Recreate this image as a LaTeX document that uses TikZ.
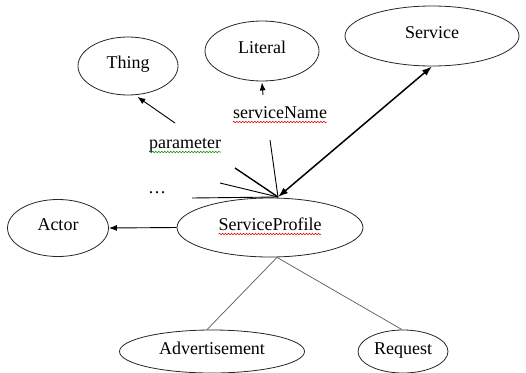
\documentclass[tikz,border=0pt]{standalone}
\usepackage{fontspec}
\setmainfont{Liberation Serif}
\usetikzlibrary{shapes.geometric,arrows.meta,decorations.pathmorphing,calc}
\begin{document}
\begin{tikzpicture}[x=1pt,y=-1pt,
  ell/.style={draw=black!85, ellipse, inner sep=0pt, line width=0.8pt,
    text height=13pt, text depth=8pt, font=\fontsize{18}{20}\selectfont},
  lbl/.style={inner sep=0pt, anchor=base, font=\fontsize{18}{20}\selectfont},
  arr/.style={-{Latex[length=8pt,width=6pt]}, line width=0.9pt},
  dblarr/.style={{Latex[length=10pt,width=7pt]}-{Latex[length=10pt,width=7pt]}, line width=1.5pt},
  thinln/.style={line width=0.9pt},
  thickln/.style={line width=1.4pt},
  grayln/.style={draw=black!65, line width=0.7pt},
  wavyred/.style={draw=red!85!black, line width=0.5pt, decorate,
    decoration={snake, amplitude=0.8pt, segment length=3pt}},
  wavygreen/.style={draw=green!55!black, line width=0.5pt, decorate,
    decoration={snake, amplitude=0.8pt, segment length=3pt}}
]
\useasboundingbox (0,0) rectangle (526,372);

% ellipses
\node[ell, minimum width=100pt, minimum height=58pt] (thing) at (128,66) {Thing};
\node[ell, minimum width=114pt, minimum height=60pt] (lit) at (262,51) {Literal};
\node[ell, minimum width=174pt, minimum height=60pt] (svc) at (432,36) {Service};
\node[ell, minimum width=101pt, minimum height=57pt] (actor) at (58,228) {Actor};
\node[ell, minimum width=186pt, minimum height=59pt] (sp) at (270,227.5) {ServiceProfile};
\node[ell, minimum width=185pt, minimum height=43pt] (adv) at (212,351.5) {Advertisement};
\node[ell, minimum width=90pt, minimum height=43pt] (req) at (403,351.5) {Request};

% labels
\node[lbl] (param) at (185,148) {parameter};
\node[lbl] (sname) at (280,118) {serviceName};
\node[lbl] (dots) at (157,193) {\dots};

% free ends
\coordinate (P) at (278,197);
\coordinate (t1) at (175,123);
\coordinate (l1) at (263,95);
\coordinate (s1) at (270,140);
\coordinate (s2) at (235,168);
\coordinate (s3) at (220,183);
\coordinate (s4) at (192,198);

% connectors
\draw[arr] (sp.west) -- (actor.east);
\draw[arr] (t1) -- ([yshift=-2pt]thing.-72);
\draw[arr] (l1) -- ([yshift=-1pt]lit.south);
\draw[dblarr] (P) -- (svc.south);
\draw[thinln] (s1) -- (P);
\draw[thickln] (s2) -- (P);
\draw[thinln] (s3) -- (P);
\draw[thinln] (s4) -- (P);
\draw[grayln] ([xshift=7pt]sp.south) -- ([xshift=-5pt]adv.north);
\draw[grayln] ([xshift=7pt]sp.south) -- ([xshift=-1pt]req.north);

% wavy underlines
\path[wavyred] ($(sp.text)+(0,4)$) -- ($(sp.text)!2!(sp.base)+(0,4)$);
\path[wavyred] ($(sname.base west)+(0,4)$) -- ($(sname.base east)+(0,4)$);
\path[wavygreen] ($(param.base west)+(0,4)$) -- ($(param.base east)+(0,4)$);
\end{tikzpicture}
\end{document}
